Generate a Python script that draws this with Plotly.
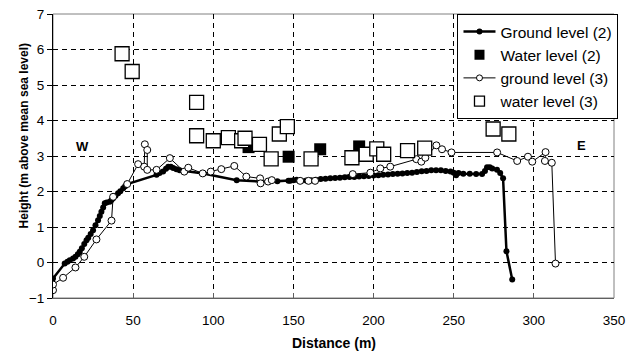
import plotly.graph_objects as go

# Ground level (2)
g2_x = [0, 7.3, 9, 10.5, 12.5, 14, 15.5, 16.7, 18, 19.5, 20.9, 22, 23.5, 25, 26.5, 28.1, 29.2, 30.2,
        31.3, 32.3, 33.5, 35.4, 36.5, 37.5, 39, 40.6, 42, 43.8, 45, 46.3, 64.6, 66.5, 68.7, 70.5,
        71.9, 73.5, 75, 77, 79, 82.3, 93.8, 114.6, 129.2, 140, 146.9, 148, 150, 152, 155, 158, 161,
        164, 167, 170, 173, 176, 179, 182, 185, 188, 191, 194, 197, 200, 203, 206, 209, 212, 215,
        218, 221, 224, 227, 230, 233, 236, 239, 242, 245, 248, 250, 251.5, 253, 256, 260, 264,
        267.7, 269.5, 270.8, 272.5, 274, 277, 279, 280.8, 282.9, 286.5]
g2_y = [-0.45, -0.03, 0.02, 0.06, 0.11, 0.16, 0.23, 0.30, 0.40, 0.52, 0.63, 0.70, 0.80, 0.91, 1.05,
        1.19, 1.31, 1.43, 1.55, 1.67, 1.69, 1.71, 1.76, 1.81, 1.88, 1.95, 2.01, 2.09, 2.15, 2.21,
        2.47, 2.52, 2.56, 2.64, 2.70, 2.70, 2.66, 2.63, 2.60, 2.58, 2.51, 2.32, 2.28, 2.29, 2.30,
        2.30, 2.32, 2.33, 2.30, 2.31, 2.32, 2.33, 2.35, 2.36, 2.37, 2.38, 2.39, 2.40, 2.41, 2.41,
        2.42, 2.43, 2.44, 2.45, 2.46, 2.47, 2.48, 2.49, 2.50, 2.51, 2.52, 2.53, 2.55, 2.57, 2.58,
        2.60, 2.60, 2.60, 2.58, 2.56, 2.53, 2.46, 2.52, 2.50, 2.50, 2.49, 2.49, 2.58, 2.68, 2.68,
        2.65, 2.61, 2.52, 2.37, 0.32, -0.48]

# Water level (2)
w2_x = [122, 147, 166.7, 191]
w2_y = [3.25, 2.98, 3.19, 3.27]

# ground level (3)
g3_x = [0, 0, 6.3, 14, 19.5, 27.1, 36.5, 37.5, 46.3, 53.1, 56.9, 57.3, 58.8, 58.8, 64.6, 72.9,
        81.9, 84.4, 93.4, 98.4, 105, 113.1, 120.6, 129.2, 129.5, 134.2, 136.5, 154.2, 159.4,
        163.5, 187, 198, 204.2, 210.4, 226.7, 229.8, 232.3, 239.2, 242.7, 248.6, 277.1, 289.6,
        296.3, 299, 307.3, 306.9, 311.2, 313.5]
g3_y = [-0.78, -0.62, -0.43, -0.14, 0.16, 0.65, 1.18, 1.85, 2.21, 2.77, 2.70, 3.33, 3.17, 2.61,
        2.61, 2.94, 2.56, 2.67, 2.51, 2.56, 2.63, 2.72, 2.42, 2.37, 2.23, 2.28, 2.32, 2.30, 2.30,
        2.30, 2.49, 2.53, 2.65, 2.70, 2.91, 2.84, 2.95, 3.30, 3.19, 3.10, 3.10, 2.86, 2.98, 2.84,
        3.11, 2.86, 2.81, -0.03]

# water level (3)
w3_x = [43.1, 49.4, 89.6, 89.6, 100, 109.4, 117.7, 119.8, 128.8, 136.1, 141.2, 146.2, 161,
        186.5, 195.4, 202, 206.3, 221.2, 231.9, 274.6, 284.4]
w3_y = [5.88, 5.38, 4.51, 3.57, 3.43, 3.52, 3.43, 3.50, 3.33, 2.92, 3.62, 3.83, 2.92, 2.95, 3.05,
        3.20, 3.05, 3.15, 3.22, 3.76, 3.62]

series_names = ["Ground level (2)", "Water level (2)", "ground level (3)", "water level (3)"]
x_ticks = [0, 50, 100, 150, 200, 250, 300, 350]
y_ticks = [-1, 0, 1, 2, 3, 4, 5, 6, 7]

FONT = "Liberation Sans, Arial, sans-serif"

styles = [
    dict(mode="lines+markers", line=dict(color="black", width=2.5),
         marker=dict(symbol="circle", size=6, color="black")),
    dict(mode="markers", marker=dict(symbol="square", size=12, color="black")),
    dict(mode="lines+markers", line=dict(color="black", width=1),
         marker=dict(symbol="circle", size=7, color="white", line=dict(color="black", width=1))),
    dict(mode="markers", marker=dict(symbol="square", size=14, color="white",
                                     line=dict(color="black", width=1.3))),
]
legend_styles = [
    dict(mode="lines+markers", line=dict(color="black", width=2.5),
         marker=dict(symbol="circle", size=6, color="black")),
    dict(mode="markers", marker=dict(symbol="square", size=10, color="black")),
    dict(mode="lines+markers", line=dict(color="black", width=1),
         marker=dict(symbol="circle", size=6, color="white", line=dict(color="black", width=1))),
    dict(mode="markers", marker=dict(symbol="square", size=10, color="white",
                                     line=dict(color="black", width=1.3))),
]
data = [(g2_x, g2_y), (w2_x, w2_y), (g3_x, g3_y), (w3_x, w3_y)]

fig = go.Figure()
for (xs, ys), name, st in zip(data, series_names, styles):
    fig.add_trace(go.Scatter(x=xs, y=ys, name=name, showlegend=False, **st))
for name, st in zip(series_names, legend_styles):
    fig.add_trace(go.Scatter(x=[None], y=[None], name=name, showlegend=True, **st))

fig.add_annotation(x=18.6, y=3.28, text="<b>W</b>", showarrow=False,
                   font=dict(family=FONT, size=13, color="black"))
fig.add_annotation(x=330, y=3.29, text="<b>E</b>", showarrow=False,
                   font=dict(family=FONT, size=13, color="black"))

# axis titles
fig.add_annotation(xref="paper", yref="paper", x=0.5, y=0, yshift=-45, yanchor="middle",
                   text="<b>Distance (m)</b>", showarrow=False,
                   font=dict(family=FONT, size=14, color="black"))
fig.add_annotation(xref="paper", yref="paper", x=0, y=0.569, xshift=-29, xanchor="center",
                   yanchor="middle", textangle=-90,
                   text="<b>Height (m above mean sea level)</b>", showarrow=False,
                   font=dict(family=FONT, size=12, color="black"))

# frame (top/right grey)
fig.add_shape(type="rect", xref="paper", yref="paper", x0=0, y0=0, x1=1, y1=1,
              line=dict(color="#808080", width=1), layer="below")

fig.update_layout(
    width=630, height=355,
    margin=dict(l=53, r=16, t=14, b=57),
    paper_bgcolor="white", plot_bgcolor="white",
    font=dict(family=FONT, size=13, color="black"),
    showlegend=True,
    legend=dict(x=1.008, y=1.0, xanchor="right", yanchor="top",
                bgcolor="white", bordercolor="black", borderwidth=1,
                font=dict(family=FONT, size=15.5, color="black"),
                itemwidth=32, tracegroupgap=0),
    xaxis=dict(range=[0, 350], tickvals=x_ticks, showgrid=True,
               gridcolor="black", griddash="5px,4px", gridwidth=1,
               showline=True, linecolor="#606060", linewidth=1,
               ticks="inside", ticklen=5, tickcolor="#606060",
               zeroline=False, automargin=False, ticklabelstandoff=10,
               tickfont=dict(size=13.5)),
    yaxis=dict(range=[-1, 7], tickvals=y_ticks, showgrid=True,
               gridcolor="black", griddash="5px,4px", gridwidth=1,
               showline=True, linecolor="black", linewidth=1,
               ticks="outside", ticklen=5, tickcolor="black",
               zeroline=False, automargin=False,
               tickfont=dict(size=13.5)),
)

fig.write_html("out.html")
